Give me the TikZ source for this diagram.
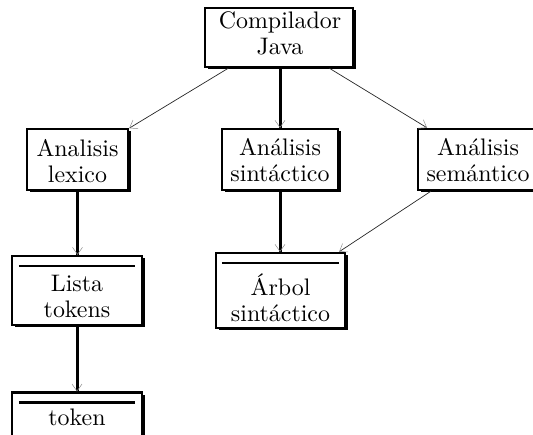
\documentclass[tikz,border=0pt]{standalone}
\usepackage{graphicx}
\usetikzlibrary{arrows.meta,shadows}
\tikzset{
  box/.style={draw=black, line width=2.4pt, fill=white, rectangle, inner sep=0pt,
    drop shadow={shadow xshift=2.5pt, shadow yshift=-2.5pt, fill=black, opacity=1}},
  lbl/.style={inner sep=0pt, font=\fontsize{10}{10.9}\selectfont},
  thinedge/.style={draw=black!85, line width=0.7pt, -{Straight Barb[length=7pt,width=10pt,line width=0.5pt,color=black!45]}},
  thickedge/.style={draw=black, line width=3pt},
  tiponly/.style={draw=black, line width=0.5pt, -{Straight Barb[length=7pt,width=10pt,line width=0.5pt,color=black!45]}},
  sep/.style={draw=black, line width=2.4pt}
}
\newcommand{\bt}[1]{\scalebox{2.39}{\begin{tabular}{@{}c@{}}#1\end{tabular}}}
\begin{document}
\begin{tikzpicture}[x=1pt,y=-1pt]
\useasboundingbox (0,0) rectangle (533,435);
\begin{scope}
\clip (0,0) rectangle (533,435);
% boxes
\node[box, minimum width=148pt, minimum height=59pt] (comp) at (279,37.5) {};
\node[box, minimum width=101pt, minimum height=61pt] (lex) at (77.5,159.5) {};
\node[box, minimum width=116pt, minimum height=61pt] (sin) at (280,159.5) {};
\node[box, minimum width=122pt, minimum height=61pt] (sem) at (479,159.5) {};
\node[box, minimum width=130pt, minimum height=69pt] (lista) at (77,290.5) {};
\node[box, minimum width=129pt, minimum height=75pt] (arbol) at (280.5,290.5) {};
\node[box, minimum width=130pt, minimum height=60pt] (token) at (77,422.7) {};
% separator lines
\draw[sep] ([xshift=8pt,yshift=-11pt]lista.north west) -- ([xshift=-8pt,yshift=-11pt]lista.north east);
\draw[sep] ([xshift=7pt,yshift=-11pt]arbol.north west) -- ([xshift=-7pt,yshift=-11pt]arbol.north east);
\draw[sep] ([xshift=8pt,yshift=-11pt]token.north west) -- ([xshift=-8pt,yshift=-11pt]token.north east);
% texts
\node[lbl] (compT) at (280,36.5) {\bt{Compilador\\Java}};
\node[lbl] (lexT) at (77.5,164) {\bt{Analisis\\lexico}};
\node[lbl] (sinT) at (280,163.5) {\bt{Análisis\\sintáctico}};
\node[lbl] (semT) at (478,163.5) {\bt{Análisis\\semántico}};
\node[lbl] (listaT) at (77,299) {\bt{Lista\\tokens}};
\node[lbl] (arbolT) at (280.5,302) {\bt{Árbol\\sintáctico}};
\node[lbl] (tokenT) at (77,420.6) {\bt{token}};
% connectors
\draw[thinedge] (comp) -- (lex);
\draw[thinedge] (comp) -- (sem);
\draw[thinedge] (sem) -- (arbol);
\draw[thickedge] (comp.south -| sin.north) -- (sin.north);
\draw[tiponly] ([yshift=10pt]sin.north) -- (sin.north);
\draw[thickedge] (lex.south) -- (lex.south |- lista.north);
\draw[tiponly] ([yshift=10pt]lex.south |- lista.north) -- (lex.south |- lista.north);
\draw[thickedge] (sin.south) -- (sin.south |- arbol.north);
\draw[tiponly] ([yshift=10pt]sin.south |- arbol.north) -- (sin.south |- arbol.north);
\draw[thickedge] (lista.south) -- (token.north);
\draw[tiponly] ([yshift=10pt]token.north) -- (token.north);
\end{scope}
\end{tikzpicture}
\end{document}
